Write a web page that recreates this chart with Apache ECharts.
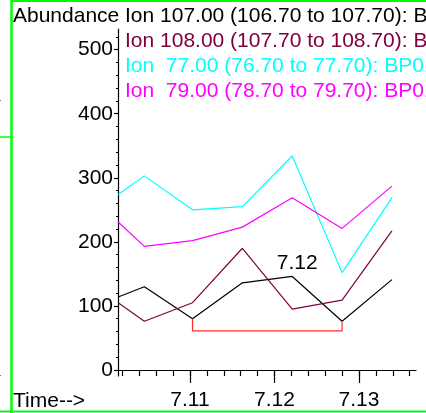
<!DOCTYPE html>
<html>
<head>
<meta charset="utf-8">
<script src="https://cdn.jsdelivr.net/npm/echarts@6/dist/echarts.min.js"></script>
<style>
html,body{margin:0;padding:0;background:#fff;}
#chart{width:426px;height:413px;}
</style>
</head>
<body>
<div id="chart"></div>
<script>
// ---- data ----
var times = [7.1015, 7.1046, 7.1103, 7.1162, 7.1221, 7.1280, 7.1339];
var ion107 = [114, 130, 80, 136, 146, 76, 141];
var ion108 = [105, 76, 105, 190, 95, 109, 217];
var ion77  = [274, 303, 250, 255, 334, 152, 269];
var ion79  = [231, 193, 202, 223, 269, 221, 287];
var seriesNames = [
  'Ion 107.00 (106.70 to 107.70): BP01.D\\data.ms',
  'Ion 108.00 (107.70 to 108.70): BP01.D\\data.ms',
  'Ion  77.00 (76.70 to 77.70): BP01.D\\data.ms',
  'Ion  79.00 (78.70 to 79.70): BP01.D\\data.ms'
];
var baselineTimes = [7.1103, 7.1103, 7.1280, 7.1280];
var baselineValues = [80, 61, 61, 76];
var peakTimes = [7.1221];
var peakValues = [146];
var peakTexts = ['7.12'];
var yTickValues = [0, 100, 200, 300, 400, 500];
var yMinorValues = [];
for (var v = 0; v <= 520; v += 20) yMinorValues.push(v);
var xTickValues = [7.11, 7.12, 7.13];
var xMinorValues = [];
for (var k = 0; k <= 17; k++) xMinorValues.push(+(7.102 + 0.002 * k).toFixed(3));
var yAxisTitle = 'Abundance';
var xAxisTitle = 'Time-->';

// ---- styles ----
var FONT = 'Liberation Sans, Arial, sans-serif';
var FS = 21;
var colors = ['#000000', '#800040', '#00ffff', '#ff00ff'];
var green = '#00ff00';

function pairs(xs, ys) { return xs.map(function (x, i) { return [x, ys[i]]; }); }
var valueSets = [ion107, ion108, ion77, ion79];

var series = valueSets.map(function (vals, i) {
  var s = {
    type: 'line', name: seriesNames[i], xAxisIndex: 0, yAxisIndex: 0,
    data: pairs(times, vals), symbol: 'none', animation: false,
    lineStyle: { color: colors[i], width: 1.2 }, itemStyle: { color: colors[i] }
  };
  if (i === 0) {
    s.markPoint = {
      symbol: 'circle', symbolSize: 0, animation: false,
      data: peakTimes.map(function (t, j) { return { coord: [t, peakValues[j]], value: peakTexts[j] }; }),
      label: { show: true, position: 'top', distance: 3, offset: [5, 0], formatter: '{c}',
               color: '#000', fontFamily: FONT, fontSize: FS }
    };
  }
  return s;
});
series.push({
  type: 'line', name: 'baseline', xAxisIndex: 0, yAxisIndex: 0,
  data: pairs(baselineTimes, baselineValues), symbol: 'none', animation: false,
  lineStyle: { color: '#ff2a2a', width: 1.2 }
});

var graphics = [];
graphics.push({ type: 'text', left: 13, top: 17 - FS / 2 - 1, style: { text: yAxisTitle, font: FS + 'px ' + FONT, fill: '#000' } });
graphics.push({ type: 'text', left: 13, top: 402 - FS / 2 - 1, style: { text: xAxisTitle, font: FS + 'px ' + FONT, fill: '#000' } });
var legendY = [17, 42.5, 67.5, 92];
seriesNames.forEach(function (n, i) {
  graphics.push({ type: 'text', x: 125, y: legendY[i] - FS / 2 - 1, style: { text: n, font: FS + 'px ' + FONT, fill: colors[i] } });
});
// green frame
graphics.push({ type: 'line', shape: { x1: 11, y1: 1, x2: 426, y2: 1 }, style: { stroke: green, lineWidth: 2 } });
graphics.push({ type: 'line', shape: { x1: 11.5, y1: 0, x2: 11.5, y2: 413 }, style: { stroke: green, lineWidth: 2.5 } });
graphics.push({ type: 'line', shape: { x1: 0, y1: 411.5, x2: 426, y2: 411.5 }, style: { stroke: green, lineWidth: 2 } });
graphics.push({ type: 'line', shape: { x1: 0, y1: 137, x2: 11, y2: 137 }, style: { stroke: green, lineWidth: 1.5 } });
graphics.push({ type: 'rect', shape: { x: 0, y: 100, width: 1, height: 1 }, style: { fill: '#777' } });
graphics.push({ type: 'rect', shape: { x: 0, y: 375, width: 1, height: 1 }, style: { fill: '#777' } });

var xMin = 7.10148, xMax = 7.13675, yMin = -9.4, yMax = 532.3;
var gridRect = { left: 118, right: 10, top: 29, bottom: 37 };

var option = {
  backgroundColor: '#ffffff',
  animation: false,
  grid: [Object.assign({}, gridRect), Object.assign({}, gridRect)],
  xAxis: [
    { type: 'value', gridIndex: 0, min: xMin, max: xMax, splitLine: { show: false },
      axisLine: { show: true, lineStyle: { color: '#000', width: 1.2 } },
      axisTick: { show: true, customValues: xTickValues, length: 13, lineStyle: { color: '#000', width: 1.2 } },
      axisLabel: { show: true, customValues: xTickValues, margin: 14, color: '#000', fontFamily: FONT, fontSize: FS,
                   formatter: function (v) { return v.toFixed(2); } } },
    { type: 'value', gridIndex: 1, min: xMin, max: xMax, splitLine: { show: false },
      axisLine: { show: false },
      axisTick: { show: true, customValues: xMinorValues, length: 6, lineStyle: { color: '#000', width: 1.2 } },
      axisLabel: { show: false } }
  ],
  yAxis: [
    { type: 'value', gridIndex: 0, min: yMin, max: yMax, splitLine: { show: false },
      axisLine: { show: true, lineStyle: { color: '#000', width: 1.2 } },
      axisTick: { show: true, customValues: yTickValues, length: 4, lineStyle: { color: '#000', width: 1.2 } },
      axisLabel: { show: true, customValues: yTickValues, margin: 5, color: '#000', fontFamily: FONT, fontSize: FS } },
    { type: 'value', gridIndex: 1, min: yMin, max: yMax, splitLine: { show: false },
      axisLine: { show: false },
      axisTick: { show: true, customValues: yMinorValues, length: 2, lineStyle: { color: '#000', width: 1 } },
      axisLabel: { show: false } }
  ],
  series: series,
  graphic: graphics
};
var chart = echarts.init(document.getElementById('chart'), null, { renderer: 'canvas' });
chart.setOption(option);
</script>
</body>
</html>
